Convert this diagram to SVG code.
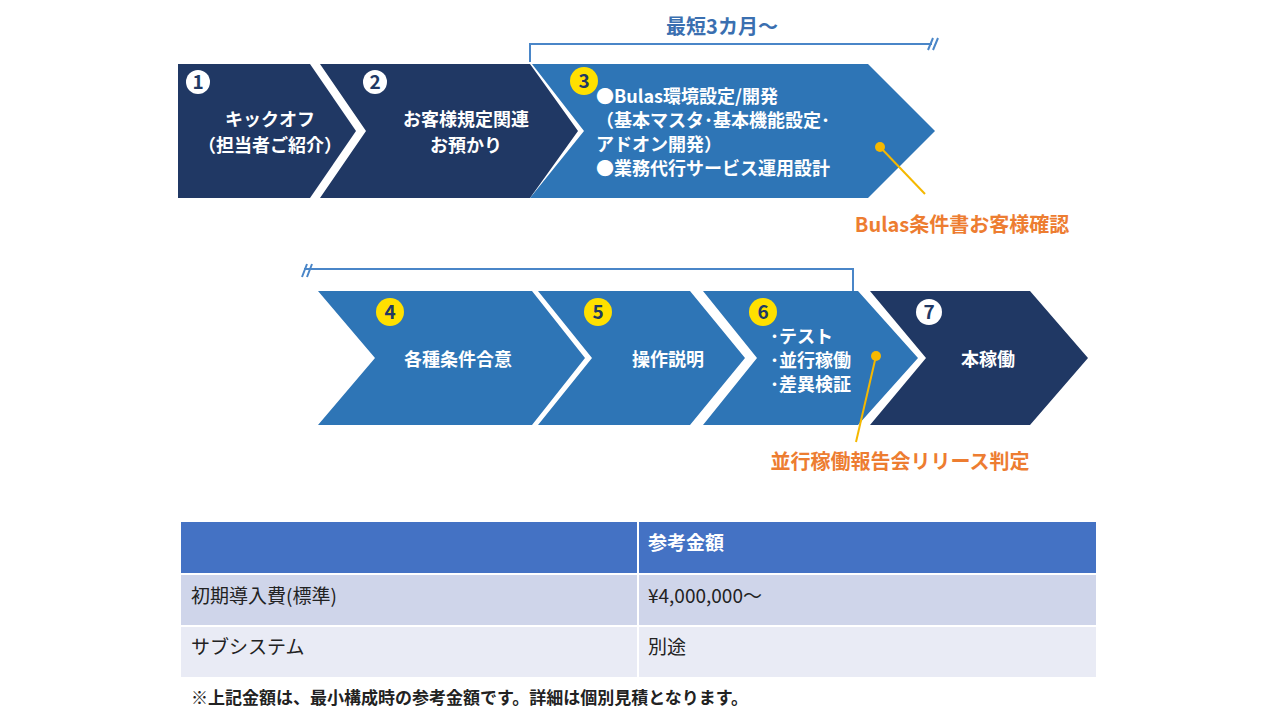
<svg xmlns="http://www.w3.org/2000/svg" width="1280" height="720" viewBox="0 0 1280 720">
<style>
text{font-family:"Noto Sans CJK JP","Noto Sans",sans-serif}
.dk{fill:#203864}.bl{fill:#2E75B6}
.t{fill:#fff;font-size:18px;font-weight:bold}
.num{font-size:19px;font-weight:bold;text-anchor:middle;fill:#203864}
.or{fill:#ED7D31;font-size:20px;font-weight:bold}
.br{fill:none;stroke:#4A86C8;stroke-width:2}
.td{font-size:19px;fill:#222}
</style>
<rect width="1280" height="720" fill="#fff"/>
<text x="722" y="34" text-anchor="middle" font-size="20" font-weight="bold" style="fill:#3A6FB0">最短3カ月～</text>
<g id="n1"><polygon class="dk" points="178,64 310,64 356,131 310,198 178,198"/>
<circle cx="198" cy="82" r="12" fill="#fff"/><text class="num" x="198" y="89">1</text>
<text class="t" x="270" y="126" text-anchor="middle">キックオフ</text><text class="t" x="270" y="152" text-anchor="middle">（担当者ご紹介）</text></g>
<g id="n2"><polygon class="dk" points="320,64 530,64 578,131 530,198 320,198 366,131"/>
<circle cx="375" cy="82" r="12" fill="#fff"/><text class="num" x="375" y="89">2</text>
<text class="t" x="466" y="126" text-anchor="middle">お客様規定関連</text><text class="t" x="466" y="152" text-anchor="middle">お預かり</text></g>
<g id="n3"><polygon class="bl" points="532,64 868,64 935,131 868,198 530,198 584,131"/>
<circle cx="584" cy="81" r="14" fill="#FFE000"/><text class="num" x="584" y="88">3</text>
<text class="t" x="596" y="103">●Bulas環境設定/開発</text>
<text class="t" x="596" y="127">（基本マスタ･基本機能設定･</text>
<text class="t" x="596" y="151">アドオン開発）</text>
<text class="t" x="596" y="175">●業務代行サービス運用設計</text></g>
<g id="n4"><polygon class="bl" points="318,291 532,291 585,358 532,425 318,425 375,358"/>
<circle cx="390" cy="312" r="14" fill="#FFE000"/><text class="num" x="390" y="319">4</text>
<text class="t" x="458" y="366" text-anchor="middle">各種条件合意</text></g>
<g id="n5"><polygon class="bl" points="538,291 690,291 745,358 690,425 538,425 592,358"/>
<circle cx="598" cy="312" r="14" fill="#FFE000"/><text class="num" x="598" y="319">5</text>
<text class="t" x="668" y="366" text-anchor="middle">操作説明</text></g>
<g id="n6"><polygon class="bl" points="703,291 858,291 918,358 858,425 703,425 757,358"/>
<circle cx="763" cy="312" r="14" fill="#FFE000"/><text class="num" x="763" y="319">6</text>
<text class="t" x="770" y="343">･テスト</text><text class="t" x="770" y="367">･並行稼働</text><text class="t" x="770" y="391">･差異検証</text></g>
<g id="n7"><polygon class="dk" points="870,291 1030,291 1088,358 1030,425 870,425 926,358"/>
<circle cx="929" cy="312" r="13" fill="#fff"/><text class="num" x="929" y="319">7</text>
<text class="t" x="988" y="366" text-anchor="middle">本稼働</text></g>
<g id="connectors">
<path class="br" d="M530,62V44H932"/><path class="br" d="M928,50L933,38M933,50L938,38"/>
<path class="br" d="M853,291V269H304"/><path class="br" d="M302,277L307,264M307,277L312,264"/>
<line x1="880" y1="147" x2="925" y2="194" stroke="#F5B800" stroke-width="2"/>
<circle cx="880" cy="147" r="5" fill="#F5B800"/>
<line x1="876" y1="356" x2="856" y2="442" stroke="#F5B800" stroke-width="2"/>
<circle cx="876" cy="356" r="5" fill="#F5B800"/>
</g>
<text class="or" x="962" y="232" text-anchor="middle">Bulas条件書お客様確認</text>
<text class="or" x="900" y="469" text-anchor="middle">並行稼働報告会リリース判定</text>
<g id="table">
<rect x="181" y="522" width="915" height="51" fill="#4472C4"/>
<rect x="181" y="575" width="915" height="50" fill="#CFD5EA"/>
<rect x="181" y="627" width="915" height="50" fill="#E9EBF5"/>
<line x1="638" y1="522" x2="638" y2="677" stroke="#fff" stroke-width="2"/>
<text x="648" y="550" fill="#fff" font-size="19" font-weight="bold">参考金額</text>
<text class="td" x="191" y="603">初期導入費(標準)</text><text class="td" x="648" y="603">¥4,000,000～</text>
<text class="td" x="191" y="654">サブシステム</text><text class="td" x="648" y="654">別途</text>
</g>
<text x="191" y="704" font-size="17" font-weight="bold" fill="#222">※上記金額は、最小構成時の参考金額です。詳細は個別見積となります。</text>
</svg>
